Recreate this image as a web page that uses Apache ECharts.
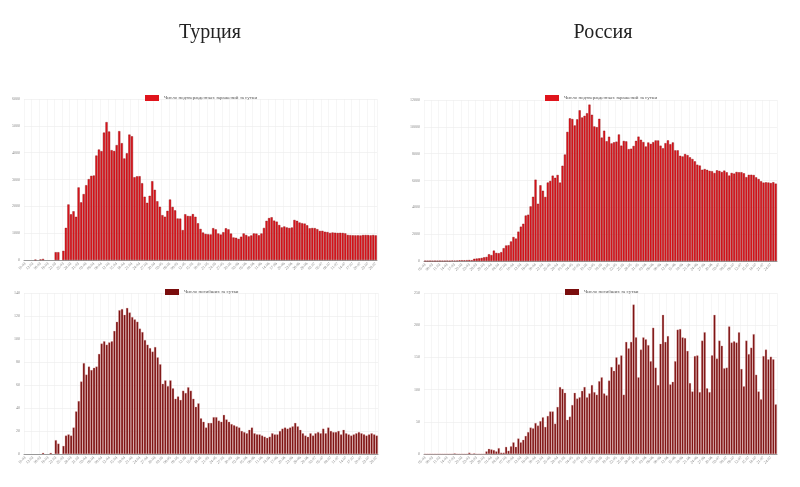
<!DOCTYPE html>
<html lang="ru">
<head>
  <meta charset="UTF-8">
  <title>Турция / Россия</title>
  <style>
    html, body { margin: 0; padding: 0; background: #fff; }
    #chart { width: 800px; height: 487px; }
  </style>
</head>
<body>
<div id="chart"></div>
<script src="https://cdn.jsdelivr.net/npm/echarts@6/dist/echarts.min.js"></script>
<script>
  // Турция: 16 дней до 26.03 с редкими данными, затем 26.03 - 26.07
  const trPreCases = [null,null,null,null,10,null,20,40,null,null,null,null,290,290,null,340];
  const trPreDeaths = [null,null,null,null,null,null,null,1,null,null,1,null,12,9,null,7];
  const trCases = [
    1196,2069,1704,1815,1610,2704,
    2148,2456,2786,3013,3135,3148,3892,4117,4056,4747,5138,4789,4093,4062,4281,4801,4353,3783,3977,4674,4611,3083,3116,3122,2861,2357,2131,2392,2936,2615,
    2188,1983,1670,1614,1832,2253,1977,1848,1546,1542,1114,1704,1641,1635,1708,1610,1368,1158,1022,972,961,952,1186,1141,987,948,1035,1182,1141,983,839,
    827,786,867,988,930,878,914,989,983,922,987,1195,1459,1562,1592,1467,1429,1304,1214,1248,1212,1192,1212,1492,1458,1396,1372,1356,1293,1182,
    1192,1188,1148,1083,1086,1053,1041,1008,1024,1016,1008,1012,1008,992,933,926,919,918,916,913,929,932,926,919,930,917
  ];
  const trDeaths = [
    16,17,16,23,37,46,
    63,79,69,76,73,75,76,87,96,98,95,97,98,107,115,125,126,121,127,123,119,117,115,109,106,99,95,92,89,93,
    84,78,61,64,59,64,57,48,50,47,55,53,58,55,48,41,44,31,28,23,27,27,32,32,29,28,34,30,28,26,25,
    24,23,20,19,18,21,23,18,17,17,16,15,14,15,18,17,17,20,22,23,22,23,24,27,24,21,18,16,15,18,
    16,18,19,18,22,18,23,20,19,19,20,17,21,18,17,16,17,18,19,18,17,16,17,18,17,16
  ];

  // Россия: 05.03 - 26.07
  const ruCases = [
    1,0,4,0,3,3,8,6,6,14,4,
    33,21,33,52,54,53,61,71,57,163,182,196,228,270,302,501,
    440,771,601,582,658,954,1154,1175,1459,1786,1667,2186,2558,2774,3388,3448,4070,4785,6060,4268,5642,5236,4774,5849,5966,6361,6198,6411,5841,7099,
    7933,9623,10633,10581,10102,10559,11231,10699,10817,11012,11656,10899,10028,9974,10598,9200,9709,8926,9263,8764,8849,8894,9434,8599,8946,8915,8338,8371,8572,8952,9268,
    9035,8863,8536,8831,8726,8855,8984,8985,8595,8404,8779,8987,8706,8835,8246,8248,7843,7790,7972,7889,7728,7600,7425,7176,7113,6800,6852,6791,6719,6693,
    6556,6760,6718,6632,6736,6611,6368,6562,6509,6635,6611,6615,6537,6248,6422,6428,6406,6234,6109,5940,5842,5862,5848,5811,5871,5765
  ];
  const ruPreDeaths = [0,0,0,0,0,0,0,0,0,0,0,0,1,0,0,0,0,0,2,0,1,0,0,0,0];
  const ruDeaths = [
    4,8,7,6,4,9,2,2,11,5,12,18,11,24,18,22,28,34,41,40,
    48,44,51,57,42,59,66,66,47,73,104,101,95,53,58,76,95,86,88,98,
    104,88,94,107,96,92,113,119,94,91,114,135,129,150,139,153,92,174,164,174,
    232,181,119,162,181,178,169,144,196,134,107,171,216,174,183,108,112,144,193,194,
    181,180,160,110,97,152,153,96,176,189,102,96,153,216,148,176,168,133,134,198,
    173,175,173,189,132,105,176,155,165,186,123,97,85,152,162,147,151,147,77
  ];

  function dates(startMonth, startDay, n) {
    const out = [];
    const d = new Date(2020, startMonth - 1, startDay);
    for (let i = 0; i < n; i++) {
      out.push(String(d.getDate()).padStart(2, '0') + '.' + String(d.getMonth() + 1).padStart(2, '0'));
      d.setDate(d.getDate() + 1);
    }
    return out;
  }

  const trSeriesCases = trPreCases.concat(trCases);
  const trSeriesDeaths = trPreDeaths.concat(trDeaths);
  const ruSeriesDeaths = ruPreDeaths.concat(ruDeaths);
  const trDates = dates(3, 10, trSeriesCases.length);
  const ruDates = dates(3, 5, ruCases.length);

  const CASES = 'Число подтвержденных заражений за сутки';
  const DEATHS = 'Число погибших за сутки';
  const font = 'Liberation Serif';

  const grids = [
    { left: 24, top: 99, width: 353, height: 161 },
    { left: 424, top: 100, width: 353, height: 161 },
    { left: 24, top: 293, width: 354, height: 161 },
    { left: 424, top: 293, width: 353, height: 161 }
  ];
  const yMax = [6000, 12000, 140, 250];
  const yStep = [1000, 2000, 20, 50];
  const cats = [trDates, ruDates, trDates, ruDates];

  const xAxis = cats.map((c, i) => ({
    type: 'category', gridIndex: i, data: c,
    axisLine: { lineStyle: { color: '#999' } },
    axisTick: { show: false },
    splitLine: { show: true, interval: 2, lineStyle: { color: '#ececec', width: 0.5 } },
    axisLabel: { interval: 2, rotate: 45, fontSize: 4, color: '#888', fontFamily: font, margin: 3 }
  }));
  const yAxis = yMax.map((m, i) => ({
    type: 'value', gridIndex: i, min: 0, max: m, interval: yStep[i],
    axisLine: { show: false }, axisTick: { show: false },
    splitLine: { lineStyle: { color: '#e6e6e6', width: 0.5 } },
    axisLabel: { fontSize: 4, color: '#888', fontFamily: font, margin: 4, formatter: v => String(v) }
  }));

  const casesStyle = { color: '#e0141c', borderColor: '#8a0c10', borderWidth: 0.4 };
  const deathsStyle = { color: '#7a0d0d', borderColor: '#d9a0a0', borderWidth: 0.3 };
  const seriesData = [
    [CASES, trSeriesCases, casesStyle],
    [CASES + ' ', ruCases, casesStyle],
    [DEATHS, trSeriesDeaths, deathsStyle],
    [DEATHS + ' ', ruSeriesDeaths, deathsStyle]
  ];
  const series = seriesData.map((s, i) => ({
    name: s[0], type: 'bar', xAxisIndex: i, yAxisIndex: i, data: s[1],
    itemStyle: s[2], barCategoryGap: '15%', silent: true
  }));

  const legendPos = [[140, 90], [540, 90], [160, 284], [560, 284]];
  const legend = seriesData.map((s, i) => ({
    data: [{ name: s[0], icon: 'rect', itemStyle: { borderWidth: 0 } }],
    left: legendPos[i][0], top: legendPos[i][1],
    itemWidth: 14, itemHeight: 6, itemGap: 4,
    textStyle: { fontSize: 5, color: '#555', fontFamily: font },
    selectedMode: false
  }));

  const chart = echarts.init(document.getElementById('chart'));
  chart.setOption({
    backgroundColor: '#fff',
    animation: false,
    title: [
      { text: 'Турция', left: 205, top: 18, textAlign: 'center', textStyle: { fontFamily: font, fontSize: 20, fontWeight: 'normal', color: '#222' } },
      { text: 'Россия', left: 598, top: 18, textAlign: 'center', textStyle: { fontFamily: font, fontSize: 20, fontWeight: 'normal', color: '#222' } }
    ],
    legend: legend,
    grid: grids,
    xAxis: xAxis,
    yAxis: yAxis,
    series: series
  });
</script>
</body>
</html>
